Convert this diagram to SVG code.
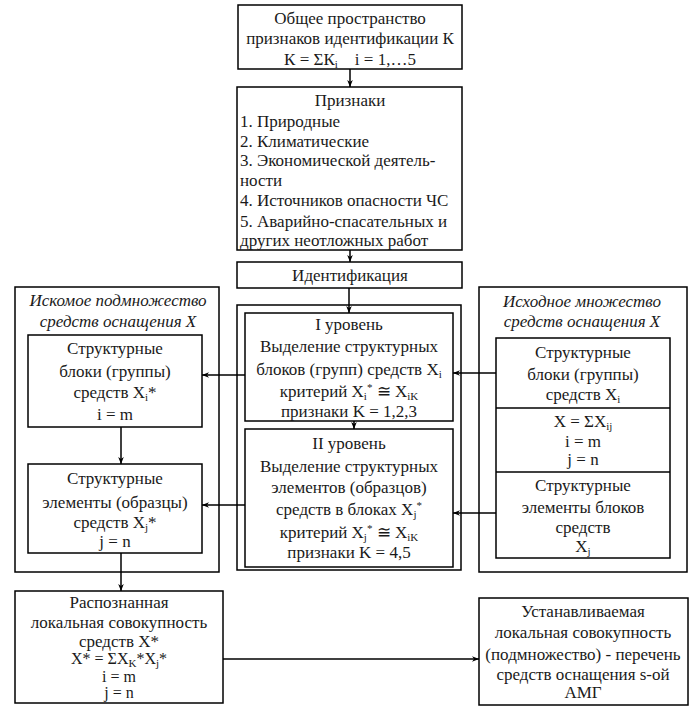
<svg xmlns="http://www.w3.org/2000/svg" width="698" height="708" viewBox="0 0 698 708" font-family="'Liberation Serif', 'DejaVu Serif', serif">
<style>
  rect { fill: #fff; stroke: #000; stroke-width: 1.5; }
  text { font-size: 17px; fill: #1a1a1a; }
  .c { text-anchor: middle; }
  .it { font-style: italic; }
  .sub { font-size: 11px; }
  .sm { font-size: 16px; }
  .conn line { stroke: #000; stroke-width: 1.5; fill: none; }
</style>
<defs>
  <marker id="ah" viewBox="0 0 10 10" refX="10" refY="5" markerWidth="9" markerHeight="7" markerUnits="userSpaceOnUse" orient="auto">
    <path d="M0,1 L10,5 L0,9 L3,5 Z" fill="#000"/>
  </marker>
</defs>

<g id="top">
  <rect x="238" y="5" width="224" height="64"/>
  <text class="c" x="350" y="24">Общее пространство</text>
  <text class="c" x="350" y="44">признаков идентификации К</text>
  <text class="c" x="350" y="65">К = ΣК<tspan class="sub" dy="3">i</tspan><tspan dy="-3" xml:space="preserve">    i = 1,…5</tspan></text>
</g>

<g id="priznaki">
  <rect x="237" y="87" width="225" height="163"/>
  <text class="c" x="350" y="106">Признаки</text>
  <text x="240" y="127">1. Природные</text>
  <text x="240" y="147">2. Климатические</text>
  <text x="240" y="166">3. Экономической деятель-</text>
  <text x="240" y="186">ности</text>
  <text x="240" y="206">4. Источников опасности ЧС</text>
  <text x="240" y="227">5. Аварийно-спасательных и</text>
  <text x="240" y="246">других неотложных работ</text>
</g>

<g id="ident">
  <rect x="237" y="262" width="225" height="26"/>
  <text class="c" x="350" y="281">Идентификация</text>
</g>

<g id="center-panel">
  <rect x="237" y="305" width="224" height="265"/>
</g>
<g id="level1">
  <rect x="245" y="313" width="208" height="108"/>
  <text class="c" x="349" y="330">I уровень</text>
  <text class="c" x="349" y="352">Выделение структурных</text>
  <text class="c" x="349" y="375">блоков (групп) средств X<tspan class="sub" dy="3">i</tspan></text>
  <text class="c" x="349" y="397">критерий X<tspan class="sub" dy="3">i</tspan><tspan class="sub" dy="-9">*</tspan><tspan dy="6"> ≅ X</tspan><tspan class="sub" dy="3">iK</tspan></text>
  <text class="c" x="349" y="417">признаки K = 1,2,3</text>
</g>
<g id="level2">
  <rect x="245" y="429" width="208" height="138"/>
  <text class="c" x="349" y="449">II уровень</text>
  <text class="c" x="349" y="472">Выделение структурных</text>
  <text class="c" x="349" y="493">элементов (образцов)</text>
  <text class="c" x="349" y="515">средств в блоках X<tspan class="sub" dy="3">j</tspan><tspan class="sub" dy="-9">*</tspan></text>
  <text class="c" x="349" y="538">критерий X<tspan class="sub" dy="3">j</tspan><tspan class="sub" dy="-9">*</tspan><tspan dy="6"> ≅ X</tspan><tspan class="sub" dy="3">iK</tspan></text>
  <text class="c" x="349" y="558">признаки K = 4,5</text>
</g>

<g id="left-panel">
  <rect x="15" y="287" width="204" height="285"/>
  <text class="c it" x="118" y="306">Искомое подмножество</text>
  <text class="c it" x="118" y="327">средств оснащения X</text>
</g>
<g id="left-blocks">
  <rect x="28" y="335" width="174" height="92"/>
  <text class="c" x="115" y="354">Структурные</text>
  <text class="c" x="115" y="377">блоки (группы)</text>
  <text class="c" x="115" y="398">средств  X<tspan class="sub" dy="3">i</tspan><tspan dy="-3">*</tspan></text>
  <text class="c" x="115" y="420">i = m</text>
</g>
<g id="left-elements">
  <rect x="28" y="464" width="174" height="89"/>
  <text class="c" x="115" y="484">Структурные</text>
  <text class="c" x="115" y="508">элементы (образцы)</text>
  <text class="c" x="115" y="528">средств  X<tspan class="sub" dy="3">j</tspan><tspan dy="-3">*</tspan></text>
  <text class="c" x="115" y="547">j = n</text>
</g>

<g id="right-panel">
  <rect x="479" y="287" width="208" height="285"/>
  <text class="c it" x="582" y="307">Исходное множество</text>
  <text class="c it" x="582" y="327">средств оснащения X</text>
</g>
<g id="right-set">
  <rect x="496" y="338" width="174" height="220"/>
  <line x1="496" y1="408" x2="670" y2="408" stroke="#000" stroke-width="1.5"/>
  <line x1="496" y1="472" x2="670" y2="472" stroke="#000" stroke-width="1.5"/>
  <text class="c" x="583" y="358">Структурные</text>
  <text class="c" x="583" y="380">блоки (группы)</text>
  <text class="c" x="583" y="400">средств  X<tspan class="sub" dy="3">i</tspan></text>
  <text class="c" x="583" y="427">X = ΣX<tspan class="sub" dy="3">ij</tspan></text>
  <text class="c" x="583" y="447">i = m</text>
  <text class="c" x="583" y="465">j = n</text>
  <text class="c" x="583" y="491">Структурные</text>
  <text class="c" x="583" y="513">элементы блоков</text>
  <text class="c" x="583" y="533">средств</text>
  <text class="c" x="583" y="552">X<tspan class="sub" dy="3">j</tspan></text>
</g>

<g id="recognized">
  <rect x="15" y="591" width="208" height="112"/>
  <text class="c" x="119" y="608">Распознанная</text>
  <text class="c" x="119" y="628">локальная совокупность</text>
  <text class="c" x="119" y="647">средств  X*</text>
  <text class="c sm" x="119" y="664">X* = ΣX<tspan class="sub" dy="3">K</tspan><tspan dy="-3">*X</tspan><tspan class="sub" dy="3">j</tspan><tspan dy="-3">*</tspan></text>
  <text class="c sm" x="119" y="682">i = m</text>
  <text class="c sm" x="119" y="698">j = n</text>
</g>

<g id="established">
  <rect x="479" y="598" width="209" height="107"/>
  <text class="c" x="583" y="617">Устанавливаемая</text>
  <text class="c" x="583" y="638">локальная совокупность</text>
  <text class="c" x="583" y="660">(подмножество) - перечень</text>
  <text class="c" x="583" y="680">средств оснащения s-ой</text>
  <text class="c" x="583" y="698">АМГ</text>
</g>

<g class="conn" id="connectors">
  <line x1="350" y1="69" x2="350" y2="87" marker-end="url(#ah)"/>
  <line x1="350" y1="250" x2="350" y2="262" marker-end="url(#ah)"/>
  <line x1="349" y1="288" x2="349" y2="313" marker-end="url(#ah)"/>
  <line x1="354" y1="421" x2="354" y2="429" marker-end="url(#ah)"/>
  <line x1="245" y1="375" x2="202" y2="375" marker-end="url(#ah)"/>
  <line x1="245" y1="505" x2="202" y2="505" marker-end="url(#ah)"/>
  <line x1="496" y1="373" x2="453" y2="373" marker-end="url(#ah)"/>
  <line x1="496" y1="513" x2="453" y2="513" marker-end="url(#ah)"/>
  <line x1="121" y1="427" x2="121" y2="464" marker-end="url(#ah)"/>
  <line x1="121" y1="553" x2="121" y2="591" marker-end="url(#ah)"/>
  <line x1="223" y1="659" x2="479" y2="659" marker-end="url(#ah)"/>
</g>
</svg>
